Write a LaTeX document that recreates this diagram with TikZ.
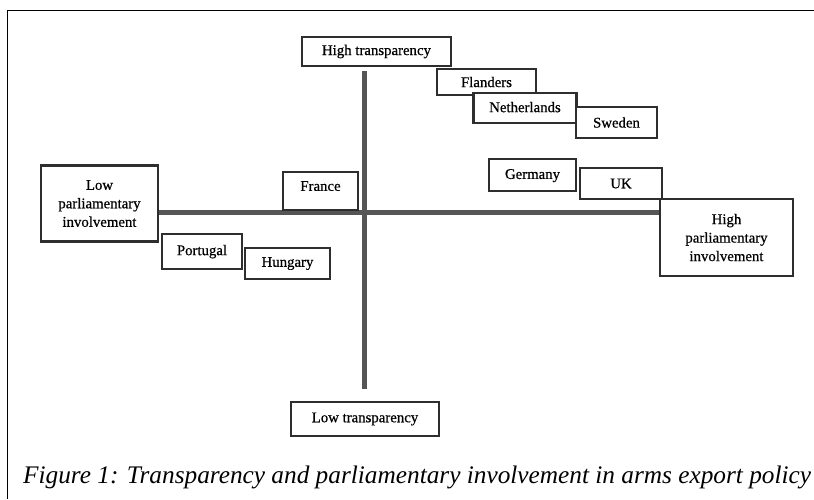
\documentclass[tikz,border=0pt]{standalone}
\usepackage{fontspec}
\setmainfont{Liberation Serif}
\newfontfamily\boxfont[FakeBold=0.6]{Liberation Serif}
\definecolor{axisgray}{HTML}{555555}
\definecolor{boxgray}{HTML}{2E2E2E}
\begin{document}
\begin{tikzpicture}[x=1pt,y=-1pt,
  box/.style={draw=boxgray, line width=2.4pt, fill=white, inner sep=0pt,
    font=\boxfont\fontsize{14.8}{18.5}\selectfont, align=center},
  axis/.style={draw=axisgray, line width=5pt},
  frameline/.style={draw=black, line width=1pt}]
\useasboundingbox (0,0) rectangle (814,499);
% frame (left and top edges only)
\draw[frameline] (7,499) -- (7,10) -- (814,10);
% axes
\coordinate (vt) at (364.5,71);
\coordinate (vb) at (364.5,389);
\coordinate (hl) at (158,212);
\coordinate (hr) at (661,212);
\draw[axis] (vt) -- (vb);
\draw[axis] (hl) -- (hr);
% boxes
\node[box, minimum width=149pt, minimum height=29pt] (ht) at (376.5,51.5) {High transparency};
\node[box, minimum width=148pt, minimum height=34pt] (lt) at (365,419) {Low transparency};
\node[box, minimum width=117pt, minimum height=76pt] (lp) at (99.5,203.5) {Low\\parliamentary\\involvement};
\node[box, minimum width=133pt, minimum height=77pt] (hp) at (726.5,237.5) {High\\parliamentary\\involvement};
\node[box, minimum width=75pt, minimum height=38pt, text depth=10pt] (fr) at (320.5,191) {France};
\node[box, minimum width=80pt, minimum height=35pt, text depth=3pt] (pt) at (202,251.5) {Portugal};
\node[box, minimum width=85pt, minimum height=31pt] (hu) at (287.5,263.5) {Hungary};
\node[box, minimum width=99pt, minimum height=26pt] (fl) at (486.5,82) {Flanders};
\node[box, minimum width=103pt, minimum height=30pt, text depth=2pt] (nl) at (525,108) {Netherlands};
\node[box, minimum width=81pt, minimum height=31pt] (se) at (616.5,122.5) {Sweden};
\node[box, minimum width=87pt, minimum height=32pt, text depth=2pt] (de) at (532.5,175) {Germany};
\node[box, minimum width=82pt, minimum height=31pt] (uk) at (621,183.5) {UK};
% caption
\node[anchor=base west, inner sep=0pt, font=\fontsize{25.3}{30}\selectfont\itshape] (cap) at (23,483)
  {Figure 1: Transparency and parliamentary involvement in arms export policy};
\end{tikzpicture}
\end{document}
